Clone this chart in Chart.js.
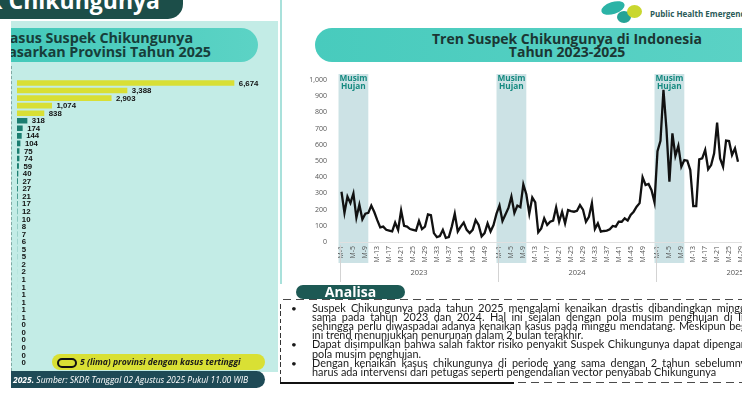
<!DOCTYPE html>
<html>
<head>
<meta charset="utf-8">
<script src="https://cdn.jsdelivr.net/npm/chart.js@4.4.1/dist/chart.umd.min.js"></script>
<style>
  html,body{margin:0;padding:0;width:750px;height:394px;overflow:hidden;background:#fff;}
  body{position:relative;font-family:"Open Sans",Arial,sans-serif;}
  .a{position:absolute;}
  .nw{white-space:nowrap;}
  .al{position:absolute;left:32px;white-space:nowrap;font-family:Lato,"Liberation Sans",sans-serif;color:#1a1a1a;line-height:10px;}
  .bul{position:absolute;left:11px;font-family:Lato,"Liberation Sans",sans-serif;color:#1a1a1a;font-size:10px;line-height:10px;}
</style>
</head>
<body>
<!-- LEFT PANEL -->
<div class="a" style="left:11px;top:21px;width:267px;height:351px;background:#c3ece6;"></div>
<div class="a" style="left:11px;top:66px;width:0;height:305px;border-left:1px dashed #7fa9a3;"></div>
<div class="a" style="left:0;top:0;width:183px;height:19px;background:#1c4e49;border-bottom-right-radius:15px;overflow:hidden;">
  <div class="a nw" style="right:23px;top:-14px;font-weight:700;font-size:23px;line-height:28px;color:#fff;">Suspek Chikungunya</div>
</div>
<div class="a" style="left:11px;top:28px;width:247px;height:34px;background:linear-gradient(90deg,#44c9ba,#5cd3c5);border-radius:0 17px 17px 0;overflow:hidden;">
  <div class="a nw" style="right:65px;top:2.2px;font-weight:700;font-size:14.3px;letter-spacing:-0.06px;line-height:15px;color:#173e3a;">Kasus Suspek Chikungunya</div>
  <div class="a nw" style="right:47px;top:16.2px;font-weight:700;font-size:14.3px;letter-spacing:-0.06px;line-height:15px;color:#173e3a;">Berdasarkan Provinsi Tahun 2025</div>
</div>
<div class="a" style="left:11px;top:76px;width:260px;height:292px;"><canvas id="barChart" width="260" height="292"></canvas></div>
<div class="a" style="left:52px;top:354px;width:213px;height:16px;background:#d9e034;border-radius:8px;">
  <div class="a" style="left:5px;top:3.5px;width:16px;height:6px;border:2px solid #111;border-radius:5px;"></div>
  <div class="a nw" style="left:28px;top:0;font-weight:700;font-style:italic;font-size:8.6px;line-height:16px;color:#1a1a1a;">5 (lima) provinsi dengan kasus tertinggi</div>
</div>
<div class="a" style="left:11px;top:371px;width:254px;height:17px;background:#1e4a56;border-radius:0 9px 9px 0;overflow:hidden;">
  <div class="a nw" style="left:2px;top:0;font-style:italic;font-size:8.5px;line-height:17px;color:#fff;"><b>2025.</b> Sumber: SKDR Tanggal 02 Agustus 2025 Pukul 11.00 WIB</div>
</div>

<!-- RIGHT PANEL -->
<div class="a" id="rp" style="left:280px;top:0;width:462px;height:394px;overflow:hidden;">
  <div class="a" style="left:0;top:0;width:2px;height:284px;background:#a9e1db;"></div>
  <div class="a" style="left:321px;top:2px;width:24px;height:12px;border-radius:50%;background:#2bb3a6;transform:rotate(-18deg);"></div>
  <div class="a" style="left:337px;top:11px;width:14px;height:12px;border-radius:50%;background:#26a396;"></div>
  <div class="a" style="left:347px;top:5px;width:15px;height:13px;border-radius:50%;background:#c9d72f;"></div>
  <div class="a nw" style="left:370px;top:8px;font-weight:700;font-size:8px;line-height:12px;color:#2b5b58;">Public Health Emergency Operation Centre</div>
  <div class="a" style="left:35px;top:28px;width:440px;height:34px;background:linear-gradient(90deg,#48cbbd,#5bd2c5);border-radius:17px 0 0 17px;"></div>
  <div class="a nw" style="left:87px;width:400px;top:31.6px;text-align:center;font-weight:700;font-size:14px;line-height:14px;color:#1b3633;">Tren Suspek Chikungunya di Indonesia</div>
  <div class="a nw" style="left:87px;width:400px;top:45px;text-align:center;font-weight:700;font-size:14px;line-height:14px;color:#1b3633;">Tahun 2023-2025</div>
  <div class="a" style="left:20px;top:70px;width:514px;height:215px;"><canvas id="lineChart" width="514" height="215"></canvas></div>

  <!-- Analisa box -->
  <div class="a" style="left:3px;top:299px;width:460px;height:1.4px;background:repeating-linear-gradient(90deg,#4a4a4a 0 8px,transparent 8px 13px);"></div>
  <div class="a" style="left:-1px;top:304px;width:1.6px;height:78px;background:repeating-linear-gradient(180deg,#333 0 4.5px,transparent 4.5px 7.3px);"></div>
  <div class="a" style="left:0;top:382px;width:234px;height:2px;background:#111;"></div>
  <div class="a" style="left:238px;top:382px;width:230px;height:1.4px;background:repeating-linear-gradient(90deg,#4a4a4a 0 8px,transparent 8px 13px);"></div>
  <div class="a" style="left:16px;top:285px;width:109px;height:14px;background:#1d5954;border-radius:8px;"></div>
  <div class="a nw" style="left:16px;width:109px;top:284px;text-align:center;font-weight:700;font-size:14px;line-height:16px;color:#fff;">Analisa</div>
  <div id="analisa"></div>
</div>

<script>
// ---------------- DATA ----------------
const provinceValues = [6674, 3388, 2903, 1074, 838, 318, 174, 144, 104, 75, 74, 59, 40, 27, 27, 21, 17, 12, 10, 8, 7, 6, 5, 5, 2, 2, 1, 1, 1, 1, 1, 1, 0, 0, 0, 0, 0, 0];
const provinceNames = provinceValues.map((_, i) => 'Provinsi ' + (i + 1));
const topProvinceCount = 5;

const yearLabels = ['2023', '2024', '2025'];
const weeksPerYear = 53;
const cases2023 = [310, 180, 280, 240, 300, 150, 230, 140, 175, 180, 225, 185, 135, 90, 95, 75, 70, 65, 120, 75,
                   195, 100, 95, 80, 75, 70, 130, 80, 95, 170, 165, 55, 30, 37, 75, 25, 30, 95, 175, 65,
                   95, 120, 75, 55, 75, 135, 105, 35, 55, 115, 65, 105, 175];
const cases2024 = [225, 130, 170, 210, 280, 180, 225, 215, 355, 295, 175, 275, 245, 60, 84, 146, 105, 125, 132, 214,
                   125, 187, 115, 197, 191, 187, 193, 228, 200, 125, 156, 240, 80, 115, 64, 68, 70, 78, 99, 95,
                   125, 125, 146, 132, 167, 187, 218, 240, 400, 352, 358, 320, 245];
const cases2025 = [560, 625, 940, 700, 372, 671, 531, 593, 465, 506, 502, 444, 222, 222, 510, 516, 568, 449, 475, 547,
                   737, 516, 465, 626, 623, 537, 578, 496];
const yTickMax = 1000;
const yTickStep = 100;
const rainyWeeks = 10;

const analisaLines = [
  {text: 'Suspek Chikungunya pada tahun 2025 mengalami kenaikan drastis dibandingkan minggu yang', shown: 'Suspek Chikungunya pada tahun 2025 mengalami kenaikan drastis dibandingkan ming', end: 460, bullet: true},
  {text: 'sama pada tahun 2023 dan 2024. Hal ini sejalan dengan pola musim penghujan di Indonesia', shown: 'sama pada tahun 2023 dan 2024. Hal ini sejalan dengan pola musim penghujan di I', end: 461},
  {text: 'sehingga perlu diwaspadai adanya kenaikan kasus pada minggu mendatang. Meskipun begitu,', shown: 'sehingga perlu diwaspadai adanya kenaikan kasus pada minggu mendatang. Meskipun be', end: 461},
  {text: 'ini trend menunjukkan penurunan dalam 2 bulan terakhir.', last: true},
  {text: 'Dapat disimpulkan bahwa salah faktor risiko penyakit Suspek Chikungunya dapat dipengaruhi oleh', shown: 'Dapat disimpulkan bahwa salah faktor risiko penyakit Suspek Chikungunya dapat dipenga', end: 461, bullet: true},
  {text: 'pola musim penghujan.', last: true},
  {text: 'Dengan kenaikan kasus chikungunya di periode yang sama dengan 2 tahun sebelumnya,', shown: 'Dengan kenaikan kasus chikungunya di periode yang sama dengan 2 tahun sebelumn', end: 461, bullet: true},
  {text: 'harus ada intervensi dari petugas seperti pengendalian vector penyabab Chikungunya', last: true, ref: 405}
];

// ---------------- ANALISA TEXT ----------------
(function () {
  const host = document.getElementById('analisa');
  const mc = document.createElement('canvas').getContext('2d');
  const fam = 'Lato, "Liberation Sans", sans-serif';
  const base = 11;
  mc.font = base + 'px ' + fam;
  const refLine = analisaLines.find(l => l.ref);
  const size = Math.min(11.2, base * refLine.ref / mc.measureText(refLine.text).width);
  mc.font = size + 'px ' + fam;
  analisaLines.forEach((l, i) => {
    const cy = 308 + 9.1 * i;
    const d = document.createElement('div');
    d.className = 'al';
    d.style.fontSize = size + 'px';
    d.style.top = (cy - 5) + 'px';
    if (!l.last) {
      const w = mc.measureText(l.shown).width;
      const n = (l.shown.match(/ /g) || []).length;
      d.style.wordSpacing = ((l.end - 32 - w) / Math.max(n, 1)) + 'px';
    }
    d.textContent = l.text;
    host.appendChild(d);
    if (l.bullet) {
      const b = document.createElement('div');
      b.className = 'bul';
      b.style.top = (cy - 5) + 'px';
      b.textContent = '\u2022';
      host.appendChild(b);
    }
  });
})();

// ---------------- BAR CHART ----------------
const barValueLabels = {
  id: 'barValueLabels',
  afterDatasetsDraw(chart) {
    const ctx = chart.ctx;
    const meta = chart.getDatasetMeta(0);
    ctx.save();
    ctx.font = 'bold 7.8px "Liberation Sans", Arial, sans-serif';
    ctx.fillStyle = '#111';
    ctx.textBaseline = 'middle';
    ctx.textAlign = 'left';
    meta.data.forEach((bar, i) => {
      ctx.fillText(provinceValues[i].toLocaleString('en-US'), bar.x + 4.5, bar.y + 0.5);
    });
    ctx.restore();
  }
};

new Chart(document.getElementById('barChart'), {
  type: 'bar',
  data: {
    labels: provinceNames,
    datasets: [{
      data: provinceValues,
      backgroundColor: provinceValues.map((v, i) => i < topProvinceCount ? '#d8df35' : '#1b7d70'),
      borderWidth: 0,
      categoryPercentage: 1,
      barPercentage: 0.74
    }]
  },
  options: {
    indexAxis: 'y',
    responsive: false,
    animation: false,
    layout: {padding: {top: 3.2, bottom: 1.8, left: 0, right: 0}},
    plugins: {legend: {display: false}, tooltip: {enabled: false}},
    scales: {
      x: {display: false, min: 0, max: 7800},
      y: {
        grid: {display: false, drawTicks: false},
        border: {display: false},
        ticks: {display: false},
        afterFit(s) { s.width = 6; }
      }
    }
  },
  plugins: [barValueLabels]
});

// ---------------- LINE CHART ----------------
const weekLabels = [];
yearLabels.forEach(() => { for (let w = 1; w <= weeksPerYear; w++) weekLabels.push('M-' + w); });
const weeklyCases = [...cases2023, ...cases2024, ...cases2025];
while (weeklyCases.length < weekLabels.length) weeklyCases.push(null);

const seasonAndYears = {
  id: 'seasonAndYears',
  beforeDraw(chart) {
    const {ctx, chartArea, scales: {x}} = chart;
    const slot = x.getPixelForValue(1) - x.getPixelForValue(0);
    ctx.save();
    yearLabels.forEach((yr, k) => {
      const s = x.getPixelForValue(k * weeksPerYear) - slot;
      const w = rainyWeeks * slot;
      ctx.fillStyle = '#cce2e5';
      ctx.fillRect(s, chartArea.top - 6, w, chartArea.bottom - chartArea.top + 27);
      ctx.fillStyle = '#168a80';
      ctx.font = 'bold 8.3px "Open Sans", Arial, sans-serif';
      ctx.textAlign = 'center';
      ctx.textBaseline = 'middle';
      ctx.fillText('Musim', s + w / 2, chartArea.top - 1.5);
      ctx.fillText('Hujan', s + w / 2, chartArea.top + 6.5);
    });
    ctx.restore();
  },
  afterDraw(chart) {
    const {ctx, chartArea, scales: {x}} = chart;
    const slot = x.getPixelForValue(1) - x.getPixelForValue(0);
    ctx.save();
    yearLabels.forEach((yr, k) => {
      const gs = x.getPixelForValue(k * weeksPerYear) - slot / 2;
      const ge = x.getPixelForValue(k * weeksPerYear + weeksPerYear - 1) + slot / 2;
      ctx.strokeStyle = '#d3d3d3';
      ctx.lineWidth = 1;
      ctx.beginPath();
      ctx.moveTo(Math.round(gs) + 0.5, chartArea.bottom + 3);
      ctx.lineTo(Math.round(gs) + 0.5, chartArea.bottom + 40);
      ctx.stroke();
      ctx.fillStyle = '#555';
      ctx.font = '7.5px "Open Sans", Arial, sans-serif';
      ctx.textAlign = 'center';
      ctx.textBaseline = 'middle';
      ctx.fillText(yr, (gs + ge) / 2, chartArea.bottom + 31);
    });
    ctx.restore();
  }
};

const yTicks = [];
for (let v = 0; v <= yTickMax; v += yTickStep) yTicks.push(v);

new Chart(document.getElementById('lineChart'), {
  type: 'line',
  data: {
    labels: weekLabels,
    datasets: [{
      data: weeklyCases,
      borderColor: '#111',
      borderWidth: 2.3,
      pointRadius: 0,
      tension: 0,
      spanGaps: false,
      fill: false
    }]
  },
  options: {
    responsive: false,
    animation: false,
    layout: {padding: {top: 10, right: 0, left: 0, bottom: 0}},
    plugins: {legend: {display: false}, tooltip: {enabled: false}},
    scales: {
      x: {
        type: 'category',
        offset: true,
        grid: {display: false, drawTicks: false},
        border: {display: true, color: '#e0e0e0', width: 1},
        ticks: {
          autoSkip: false,
          maxRotation: 90,
          minRotation: 90,
          padding: 4,
          color: '#555',
          font: {size: 7, family: '"Open Sans", Arial, sans-serif'},
          callback(v, idx) {
            const w = (idx % weeksPerYear) + 1;
            return ((w - 1) % 4 === 0 && w <= 49) ? weekLabels[idx] : '';
          }
        },
        afterFit(s) { s.height = 43; s.paddingLeft = 0; s.paddingRight = 0; }
      },
      y: {
        min: 0,
        max: yTickMax,
        afterBuildTicks(s) { s.ticks = yTicks.map(v => ({value: v})); },
        grid: {display: false, drawTicks: false},
        border: {display: false},
        ticks: {
          padding: 13,
          color: '#555',
          font: {size: 7, family: '"Open Sans", Arial, sans-serif'},
          callback: v => v.toLocaleString('en-US')
        },
        afterFit(s) { s.width = 40; s.paddingTop = 0; s.paddingBottom = 0; }
      }
    }
  },
  plugins: [seasonAndYears]
});
</script>
</body>
</html>
